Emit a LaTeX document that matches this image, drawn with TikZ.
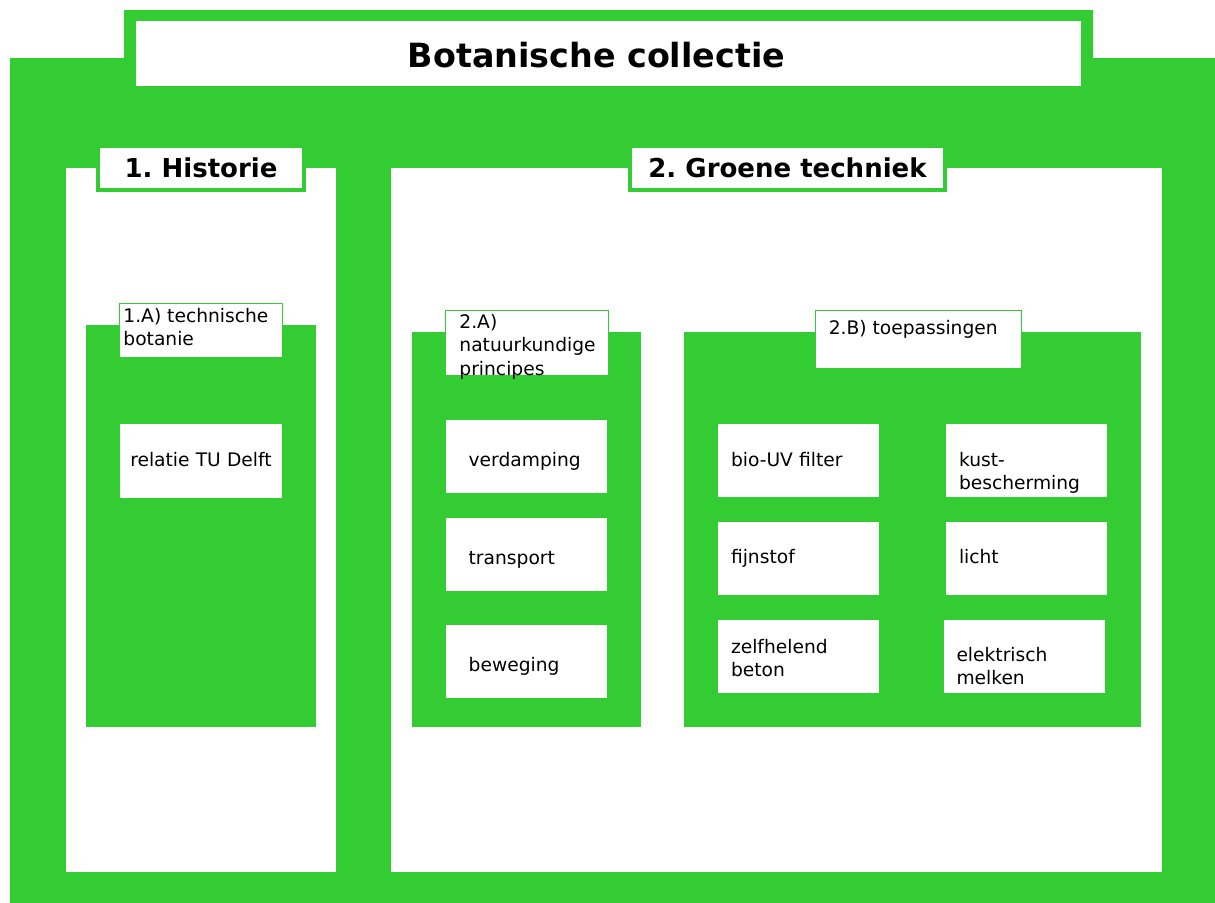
\documentclass[tikz,border=0pt]{standalone}
\usepackage{fontspec}
\setmainfont{DejaVu Sans}
\frenchspacing
\definecolor{leaf}{RGB}{51,204,51}
\begin{document}
\begin{tikzpicture}[x=0.75pt, y=-0.75pt,
		panel/.style={fill=white, inner sep=0pt},
		head/.style={fill=white, draw=leaf, line width=3pt, inner sep=0pt,
			font=\bfseries\fontsize{19.5}{23}\selectfont},
		group/.style={fill=leaf, inner sep=0pt},
		sublabel/.style={fill=white, draw=leaf, line width=0.75pt, inner sep=0pt},
		subtext/.style={align=left, inner sep=0pt, font=\fontsize{14}{17.5}\selectfont},
		item/.style={fill=white, align=left, inner xsep=9.75pt, inner ysep=0pt,
			text width=101.25pt, text height=31.5pt, text depth=23.25pt,
			font=\fontsize{14}{17.5}\selectfont},
		principe/.style={item, inner xsep=17pt, text width=86.75pt,
			text height=34.5pt, text depth=20.25pt}
		]
	\useasboundingbox (0,0) rectangle (1215,903);
	% green frame with tab
	\fill[leaf] (10,58) -- (124,58) -- (124,10) -- (1093,10) -- (1093,58)
		-- (1215,58) -- (1215,903) -- (10,903) -- cycle;
	\node [fill=white, inner sep=0pt, minimum width=708.75pt, minimum height=48.75pt] (title) at (608.5,53.5) {};
	\node [font=\bfseries\fontsize{25}{30}\selectfont, inner sep=0pt] (ttitle) at (596.5,55) {Botanische collectie};

	% panels
	\node [panel, minimum width=202.5pt, minimum height=528pt] (historie) at (201,520) {};
	\node [panel, minimum width=578.25pt, minimum height=528pt] (groen) at (776.5,520) {};
	\node [head, minimum width=154.5pt, minimum height=33pt] (hhist) at (201,168) {1. Historie};
	\node [head, minimum width=236.25pt, minimum height=33pt] (hgroen) at (787.5,168) {2. Groene techniek};

	% 1.A
	\node [group, minimum width=172.5pt, minimum height=301.5pt] (g1a) at (201,526) {};
	\node [sublabel, minimum width=122.25pt, minimum height=40.5pt] (l1a) at (200.5,330) {};
	\node [subtext, anchor=north west, xshift=3.5pt, yshift=-4pt] (t1a) at (l1a.north west) {1.A) technische\\botanie};
	\node [item, align=center, text width=112pt, inner xsep=4.75pt, text depth=24pt] (relatie) at (201,461) {relatie TU Delft};

	% 2.A
	\node [group, minimum width=171.75pt, minimum height=296.25pt] (g2a) at (526.5,529.5) {};
	\node [sublabel, minimum width=122.25pt, minimum height=48.75pt] (l2a) at (526.5,342.5) {};
	\node [subtext, anchor=north west, xshift=11pt, yshift=-3.5pt] (t2a) at (l2a.north west) {2.A)\\natuurkundige\\principes};
	\node [principe] (verdamping) at (526.5,456.5) {verdamping};
	\node [principe] (transport) at (526.5,554.5) {transport};
	\node [principe] (beweging) at (526.5,661.5) {beweging};

	% 2.B
	\node [group, minimum width=342.75pt, minimum height=296.25pt] (g2b) at (912.5,529.5) {};
	\node [sublabel, minimum width=154.5pt, minimum height=43.5pt] (l2b) at (918,339) {};
	\node [subtext, anchor=north west, xshift=10.5pt, yshift=-8pt] (t2b) at (l2b.north west) {2.B) toepassingen};
	\node [item] (biouv) at (798.5,460.5) {bio-UV filter};
	\node [item] (kust) at (1026.5,460.5) {kust-\\bescherming};
	\node [item] (fijnstof) at (798.5,558) {fijnstof};
	\node [item] (licht) at (1026.5,558) {licht};
	\node [item, text height=25.5pt, text depth=29.25pt] (zelfhelend) at (798.5,656) {zelfhelend\\beton};
	\node [item] (melken) at (1024,656) {elektrisch\\melken};
\end{tikzpicture}
\end{document}
